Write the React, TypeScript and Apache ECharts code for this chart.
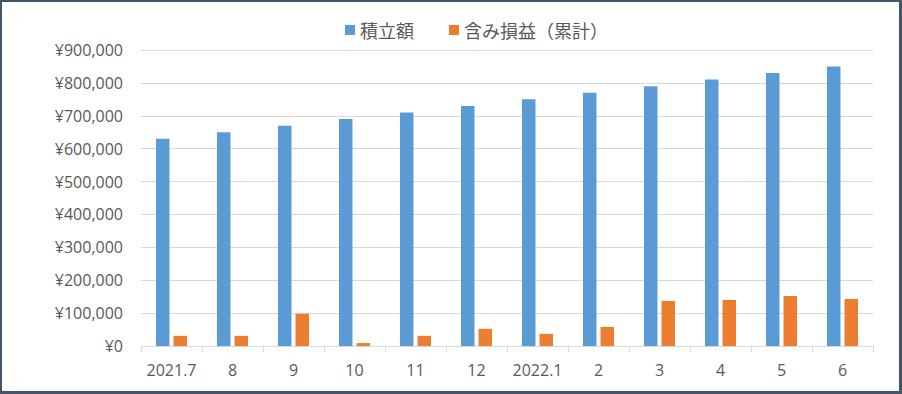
import React, { useEffect, useRef } from "react";
import * as echarts from "echarts";

const categories = ["2021.7", "8", "9", "10", "11", "12", "2022.1", "2", "3", "4", "5", "6"];
const seriesNames = ["積立額", "含み損益（累計）"];
const contributions = [630000, 650000, 670000, 690000, 710000, 730000, 750000, 770000, 790000, 810000, 830000, 850000];
const gains = [31000, 31000, 98000, 9000, 31000, 52000, 37000, 58000, 137000, 140000, 152000, 143000];

const CJK = "'Noto Sans CJK JP', sans-serif";
const NUM = "'Open Sans', 'Noto Sans', sans-serif";
const TXT = "#595959";

export default function App() {
  const ref = useRef<HTMLDivElement>(null);
  useEffect(() => {
    if (!ref.current) return;
    const chart = echarts.init(ref.current, null, { renderer: "svg" });
    chart.setOption({
      animation: false,
      backgroundColor: "#ffffff",
      textStyle: { fontFamily: CJK, color: TXT },
      legend: {
        left: 340,
        top: 16,
        itemWidth: 10,
        itemHeight: 10,
        itemGap: 35,
        icon: "rect",
        textStyle: { fontFamily: CJK, fontSize: 18, color: TXT },
        data: seriesNames,
      },
      grid: { left: 141, right: 29, top: 50, bottom: 48, containLabel: false },
      xAxis: {
        type: "category",
        data: categories,
        axisLine: { show: true, lineStyle: { color: "#d9d9d9", width: 1 } },
        axisTick: { show: true, length: 6, alignWithLabel: false, lineStyle: { color: "#d9d9d9" } },
        axisLabel: { fontFamily: NUM, fontSize: 16, color: TXT, margin: 16, interval: 0 },
      },
      yAxis: {
        type: "value",
        min: 0,
        max: 900000,
        interval: 100000,
        axisLine: { show: false },
        axisTick: { show: false },
        splitLine: { lineStyle: { color: "#d9d9d9", width: 1 } },
        axisLabel: {
          fontFamily: NUM,
          fontSize: 16,
          color: TXT,
          margin: 18,
          formatter: (v: number) => "¥" + v.toLocaleString("en-US"),
        },
      },
      series: [
        {
          name: seriesNames[0],
          type: "bar",
          data: contributions,
          barWidth: 13.5,
          barGap: "30%",
          itemStyle: { color: "#5b9bd5" },
        },
        {
          name: seriesNames[1],
          type: "bar",
          data: gains,
          barWidth: 13.5,
          barGap: "30%",
          itemStyle: { color: "#ed7d31" },
        },
      ],
    });
    return () => chart.dispose();
  }, []);
  return (
    <div style={{ position: "fixed", left: 0, top: 0, width: 902, height: 394 }}>
      <div ref={ref} style={{ position: "absolute", left: 0, top: 0, width: 902, height: 394 }} />
      <div
        style={{
          position: "absolute",
          left: 0,
          top: 0,
          width: 902,
          height: 394,
          boxSizing: "border-box",
          borderStyle: "solid",
          borderColor: "#44546a",
          borderWidth: "2px 3px 3px 2px",
          pointerEvents: "none",
        }}
      />
    </div>
  );
}
